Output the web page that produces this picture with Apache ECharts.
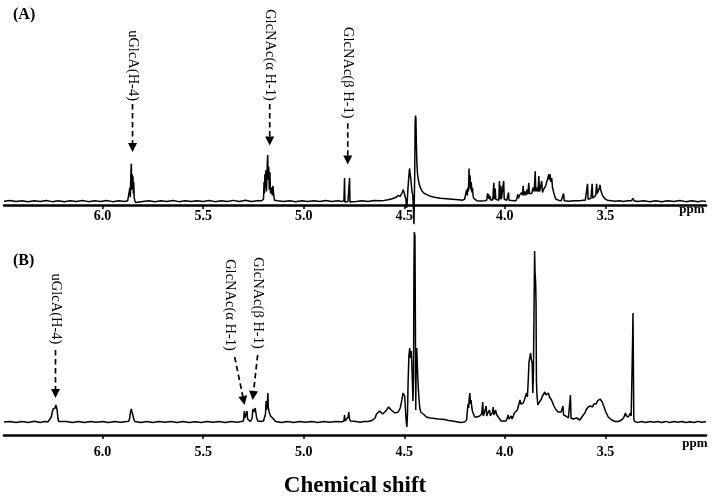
<!DOCTYPE html>
<html>
<head>
<meta charset="utf-8">
<script src="https://cdn.jsdelivr.net/npm/echarts@6/dist/echarts.min.js"></script>
<style>html,body{margin:0;padding:0;background:#fff;}#c{width:713px;height:497px;}</style>
</head>
<body>
<div id="c"></div>
<script>
// ---- tick labels (ppm) ----
const ppmTicks = [6.0, 5.5, 5.0, 4.5, 4.0, 3.5];
const ppmRange = [3.0, 6.49];

// ---- spectrum (A): [ppm, intensity] ----
const spectrumA = [
[6.49,0],[6.46,0.6],[6.43,-0.4],[6.40,0.5],[6.37,-0.6],[6.34,0.4],[6.31,-0.3],[6.28,0.7],[6.25,-0.5],[6.22,0.3],[6.19,-0.6],[6.16,0.5],[6.13,-0.3],[6.10,0.6],[6.07,-0.5],[6.04,0.4],[6.01,-0.4],[5.98,0.6],[5.95,-0.5],[5.92,0.4],[5.89,-0.3],[5.875,0.5],[5.868,2],
[5.864,14],[5.862,4],[5.859,30],[5.857,39],[5.855,12],[5.853,28],[5.851,18],[5.849,26],[5.847,8],[5.845,20],[5.843,4],[5.840,1],[5.836,-1.5],[5.830,0.5],
[5.80,-0.4],[5.77,0.5],[5.74,-0.5],[5.71,0.4],[5.68,-0.3],[5.65,0.6],[5.62,-0.5],[5.59,0.4],[5.56,-0.4],[5.53,0.5],[5.50,-0.3],[5.47,0.6],[5.44,-0.5],[5.41,0.3],[5.38,-0.4],[5.35,0.8],[5.32,-0.3],[5.29,0.9],[5.26,-0.4],[5.23,0.5],[5.21,0.3],[5.200,2],
[5.197,20],[5.195,8],[5.193,28],[5.191,14],[5.188,32],[5.185,10],[5.181,40],[5.179,48],[5.177,22],[5.174,36],[5.171,12],[5.168,30],[5.165,8],[5.161,14],[5.158,16],[5.156,6],[5.153,16],[5.150,14],[5.148,4],[5.145,1],[5.14,-1],[5.13,0.5],
[5.10,-0.4],[5.07,0.5],[5.04,-0.5],[5.01,0.4],[4.98,-0.3],[4.95,0.5],[4.92,-0.4],[4.89,0.6],[4.86,-0.3],[4.83,0.4],[4.81,-0.3],[4.800,0.5],
[4.797,24],[4.795,-1],[4.790,0.3],[4.780,-0.3],[4.774,0.5],[4.772,24],[4.770,-1],[4.765,0.4],
[4.74,-0.3],[4.71,0.5],[4.68,-0.4],[4.65,0.6],[4.62,0.3],[4.60,0.8],[4.58,1.5],[4.56,2.5],[4.54,4],[4.53,6],[4.52,5],[4.51,9],[4.505,12],[4.500,13],[4.496,10],[4.492,2],[4.489,-7],[4.486,-3],[4.482,12],[4.478,24],[4.474,34],[4.470,32],[4.466,20],[4.462,10],[4.458,7],[4.455,-6],[4.452,-24],[4.450,-25],[4.448,30],[4.446,82],[4.444,89],[4.442,85],[4.440,60],[4.437,38],[4.434,28],[4.430,22],[4.425,17],[4.418,13],[4.41,10],[4.40,8],[4.39,7],[4.37,5],[4.35,4],[4.32,3],[4.29,2.5],[4.26,2],[4.23,1.5],[4.21,1],[4.20,2],
[4.195,1.5],[4.190,12],[4.187,6],[4.184,14],[4.181,10],[4.178,34],[4.176,14],[4.173,27],[4.170,12],[4.167,20],[4.164,9],[4.161,14],[4.158,6],[4.155,3],[4.150,1],[4.14,0.5],[4.12,0.2],[4.10,0.5],
[4.090,1],[4.086,8],[4.083,3],[4.080,7],[4.077,2],[4.073,5],[4.070,1],[4.060,1.5],[4.055,19],[4.052,2],[4.048,13],[4.045,2],[4.030,1],[4.027,21],[4.024,2],[4.020,16],[4.017,2],[4.010,1],[4.006,21],[4.003,2],[3.998,1],[3.990,1],[3.982,9],[3.979,1],[3.970,0.5],[3.955,0.5],
[3.945,0.5],[3.940,3],[3.936,7],[3.932,3],[3.928,6],[3.922,5],[3.916,9],[3.912,6],[3.909,16],[3.906,6],[3.900,10],[3.896,6],[3.890,12],[3.886,7],[3.881,19],[3.878,8],[3.872,10],[3.866,8],[3.860,14],[3.854,10],[3.849,31],[3.846,10],[3.840,14],[3.835,10],[3.831,26],[3.828,10],[3.823,14],[3.817,21],[3.813,9],[3.808,12],[3.802,10],[3.797,16],[3.793,14],[3.789,22],[3.785,20],[3.781,28],[3.778,22],[3.775,28],[3.771,20],[3.767,24],[3.763,14],[3.759,16],[3.756,12],[3.752,5],[3.746,2],[3.740,1],[3.730,0.8],[3.720,0.5],[3.713,1],[3.708,8],[3.705,0.5],[3.70,0.3],[3.68,0],[3.66,0.5],[3.64,0.3],[3.62,0.6],[3.61,1],
[3.600,1],[3.594,1.5],[3.589,18],[3.586,2],[3.578,2],[3.572,3],[3.566,18],[3.563,3],[3.556,4],[3.548,6],[3.544,18],[3.541,8],[3.536,10],[3.531,13],[3.527,17],[3.524,12],[3.519,10],[3.515,6],[3.511,8],[3.507,4],[3.500,2],[3.49,1],[3.47,0.5],[3.45,0],[3.43,0.5],[3.41,-0.3],[3.39,0.4],[3.37,0.5],[3.363,3],[3.358,0.5],[3.34,-0.4],[3.31,0.5],[3.28,-0.5],[3.25,0.4],[3.22,-0.6],[3.19,0.5],[3.16,-0.4],[3.13,0.6],[3.10,-0.5],[3.07,0.4],[3.04,-0.6],[3.02,0.3],[3.00,-0.4]
];

// ---- spectrum (B): [ppm, intensity] ----
const spectrumB = [
[6.49,0],[6.46,0.6],[6.43,-0.5],[6.40,0.5],[6.37,-0.4],[6.34,0.7],[6.31,-0.5],[6.29,0.4],[6.27,0.3],[6.262,1.5],[6.255,5],
[6.250,10],[6.246,13],[6.242,15],[6.239,13],[6.236,14],[6.232,17],[6.229,16],[6.226,12],[6.222,4],[6.218,0.5],[6.21,-0.5],
[6.18,0.5],[6.15,-0.4],[6.12,0.6],[6.09,-0.5],[6.06,0.4],[6.03,-0.3],[6.00,0.5],[5.97,-0.5],[5.94,0.4],[5.91,-0.3],[5.88,0.5],[5.87,0.8],
[5.866,3],[5.862,9],[5.859,7],[5.857,13],[5.854,10],[5.851,11],[5.848,6],[5.845,3],[5.840,0.5],
[5.81,-0.4],[5.78,0.5],[5.75,-0.5],[5.72,0.4],[5.69,-0.3],[5.66,0.6],[5.63,-0.4],[5.60,0.5],[5.57,-0.5],[5.54,0.3],[5.51,-0.4],[5.48,0.5],[5.45,-0.3],[5.42,0.4],[5.39,-0.5],[5.36,0.5],[5.33,-0.3],[5.31,0.4],[5.30,1],
[5.298,3],[5.295,11],[5.292,4],[5.289,5],[5.285,6],[5.282,11],[5.279,3],[5.272,1],[5.265,0.5],[5.260,1],
[5.256,4],[5.253,13],[5.250,14],[5.247,10],[5.244,11],[5.241,14],[5.238,12],[5.234,4],[5.228,1],[5.215,0.5],[5.20,1],
[5.195,2],[5.190,8],[5.187,21],[5.184,12],[5.181,18],[5.178,29],[5.176,15],[5.172,10],[5.168,9],[5.165,6],[5.160,5],[5.155,4],[5.152,5],[5.148,2],[5.14,0.5],
[5.11,-0.4],[5.08,0.5],[5.05,-0.5],[5.02,0.4],[4.99,-0.3],[4.96,0.5],[4.93,-0.4],[4.90,0.5],[4.87,-0.3],[4.84,0.4],[4.81,0.3],[4.800,1],
[4.797,7],[4.794,1],[4.785,1],[4.779,5],[4.776,10],[4.773,4],[4.768,1],[4.76,0.3],
[4.74,0.5],[4.72,-0.3],[4.70,0.4],[4.68,0.5],[4.66,1.5],[4.645,4],[4.638,8],[4.630,6],[4.622,11],[4.615,12],[4.608,8],[4.600,9],[4.592,11],[4.585,13],[4.578,15],[4.572,14],[4.565,12],[4.556,10],[4.547,9],[4.538,8],[4.530,10],[4.520,14],[4.512,22],[4.506,29],[4.502,31],[4.498,26],[4.494,12],[4.490,0],[4.487,-5],[4.484,8],[4.481,40],[4.477,66],[4.473,74],[4.469,64],[4.465,71],[4.461,50],[4.457,21],[4.454,45],[4.452,150],[4.450,190],[4.447,186],[4.445,110],[4.443,12],[4.441,55],[4.438,74],[4.435,56],[4.432,41],[4.428,26],[4.423,14],[4.418,10],[4.41,8],[4.40,7],[4.39,5],[4.37,4],[4.35,3.5],[4.33,3],[4.30,2.5],[4.28,1.5],[4.26,1],[4.24,0.3],[4.22,-0.5],[4.20,0],
[4.195,0],[4.190,2],[4.186,12],[4.183,18],[4.180,14],[4.177,24],[4.174,29],[4.171,18],[4.168,22],[4.164,14],[4.160,10],[4.156,8],[4.150,5],[4.145,4],[4.140,5],[4.135,4],
[4.125,6],[4.115,8],[4.110,20],[4.107,6],[4.102,9],[4.097,7],[4.093,16],[4.090,6],[4.085,9],[4.080,8],[4.076,12],[4.072,6],[4.066,8],[4.061,10],[4.058,15],[4.055,7],[4.050,9],[4.046,12],[4.042,8],[4.038,6],[4.033,5],[4.026,3],[4.018,1],[4.010,0],[4.004,1],[4.000,2],[3.994,1],[3.988,4],[3.984,7],[3.980,3],[3.974,4],[3.968,6],[3.964,3],[3.958,6],
[3.953,9],[3.945,7],[3.938,12],[3.930,18],[3.925,22],[3.920,18],[3.914,16],[3.909,19],[3.903,22],[3.897,26],[3.892,29],[3.888,25],[3.884,40],[3.880,60],[3.876,58],[3.872,69],[3.868,62],[3.864,59],[3.861,29],[3.858,50],[3.855,110],[3.852,171],[3.850,150],[3.847,140],[3.845,120],[3.843,40],[3.840,26],[3.836,17],[3.832,19],[3.828,20],[3.823,22],[3.818,23],[3.813,26],[3.807,28],[3.801,30],[3.796,27],[3.790,28],[3.784,29],[3.778,25],[3.773,24],[3.768,22],[3.762,19],[3.756,16],[3.751,15],[3.745,12],[3.740,11],[3.735,10],[3.728,9],[3.720,10],[3.715,8],[3.711,16],[3.708,7],[3.703,7],[3.697,6],[3.690,5],[3.684,4],[3.678,5],[3.674,27],[3.671,4],[3.665,3],[3.660,3],[3.652,4],[3.643,4],[3.636,3],[3.627,2],[3.620,4],[3.614,6],[3.608,8],[3.602,9],[3.596,12],[3.590,14],[3.586,15],[3.580,13],[3.575,16],[3.569,17],[3.564,15],[3.558,18],[3.552,19],[3.546,18],[3.540,21],[3.533,22],[3.527,23],[3.521,21],[3.516,20],[3.511,19],[3.505,14],[3.500,11],[3.494,9],[3.486,5],[3.478,3],[3.469,2],[3.460,1],[3.452,0.5],[3.444,0],[3.436,0.5],[3.428,1],[3.420,2],[3.414,3],[3.410,4],[3.404,6],[3.400,9],[3.396,6],[3.392,5],[3.386,5],[3.381,7],[3.376,9],[3.372,6],[3.367,7],[3.365,80],[3.363,109],[3.361,60],[3.359,3],[3.355,0.5],[3.350,0],[3.340,-0.4],[3.32,0.5],[3.30,-0.5],[3.28,0.4],[3.26,-0.3],[3.24,0.5],[3.22,-0.4],[3.20,0.6],[3.18,-0.5],[3.16,0.4],[3.14,-0.3],[3.12,0.5],[3.10,-0.4],[3.08,0.3],[3.06,-0.5],[3.04,0.6],[3.02,-0.3],[3.00,0.3]
];

// ---- peak annotations: text centre, arrow start, arrow tip  [ppm, intensity] ----
const annotationsA = [
  {text:'uGlcA(H-4)',     at:[5.851,141],   from:[5.851,101], to:[5.851,51]},
  {text:'GlcNAc(α H-1)', at:[5.169,152],   from:[5.169,101], to:[5.169,58]},
  {text:'GlcNAc(β H-1)', at:[4.781,133.5], from:[4.781,81],  to:[4.781,38]}
];
const annotationsB = [
  {text:'uGlcA(H-4)',     at:[6.234,113], from:[6.234,72], to:[6.234,24]},
  {text:'GlcNAc(α H-1)', at:[5.368,117], from:[5.343,65], to:[5.294,17]},
  {text:'GlcNAc(β H-1)', at:[5.229,119], from:[5.229,67], to:[5.254,22]}
];
const panelLabels = ['(A)', '(B)'];
const axisTitle = 'Chemical shift';
const unitLabel = 'ppm';

const SERIF = '"Liberation Serif","Times New Roman",serif';

function makeX(gridIndex, margin){
  return {
    type:'value', gridIndex, min:ppmRange[0], max:ppmRange[1], inverse:true, interval:0.5,
    axisLine:{show:true, onZero:false, lineStyle:{color:'#000', width:2.6}},
    axisTick:{show:true, length:4, lineStyle:{color:'#000', width:1.5}, customValues:ppmTicks},
    axisLabel:{show:true, margin, customValues:ppmTicks, formatter:v=>v.toFixed(1),
      color:'#000', fontFamily:SERIF, fontWeight:'bold', fontSize:14},
    splitLine:{show:false}
  };
}
function makeY(gridIndex, min, max){
  return {type:'value', gridIndex, min, max, show:false, splitLine:{show:false}};
}

const chart = echarts.init(document.getElementById('c'), null, {renderer:'canvas'});
chart.setOption({
  backgroundColor:'#fff',
  animation:false,
  grid:[
    {left:4, right:7, top:105, bottom:292},
    {left:4, right:7, top:230, bottom:62}
  ],
  xAxis:[makeX(0,4), makeX(1,10)],
  yAxis:[makeY(0,-4,100), makeY(1,-13,192)],
  series:[
    {type:'line', xAxisIndex:0, yAxisIndex:0, data:spectrumA, showSymbol:false, clip:false,
     lineStyle:{color:'#000', width:1.5}, silent:true},
    {type:'line', xAxisIndex:1, yAxisIndex:1, data:spectrumB, showSymbol:false, clip:false,
     lineStyle:{color:'#000', width:1.5}, silent:true}
  ]
});

function px(g, p){ return chart.convertToPixel({gridIndex:g}, p); }
const graphics = [];
function addAnn(g, list){
  list.forEach(a=>{
    const c = px(g, a.at);
    graphics.push({type:'text', x:c[0], y:c[1], rotation:-Math.PI/2,
      style:{text:a.text, font:'14.5px '+SERIF, fill:'#000', align:'center', verticalAlign:'middle'}});
    const s = px(g, a.from), t = px(g, a.to);
    const dx=t[0]-s[0], dy=t[1]-s[1], L=Math.hypot(dx,dy), ux=dx/L, uy=dy/L;
    const hl=9, hw=4.5;
    const b=[t[0]-ux*hl, t[1]-uy*hl];
    graphics.push({type:'line', shape:{x1:s[0], y1:s[1], x2:b[0], y2:b[1]},
      style:{stroke:'#000', lineWidth:1.7, lineDash:[5.5,3.5]}});
    graphics.push({type:'polygon', shape:{points:[[t[0],t[1]],[b[0]-uy*hw,b[1]+ux*hw],[b[0]+uy*hw,b[1]-ux*hw]]},
      style:{fill:'#000'}});
  });
}
addAnn(0, annotationsA);
addAnn(1, annotationsB);
graphics.push({type:'text', x:13, y:15, style:{text:panelLabels[0], font:'bold 16px '+SERIF, fill:'#000', align:'left', verticalAlign:'middle'}});
graphics.push({type:'text', x:13, y:261, style:{text:panelLabels[1], font:'bold 16px '+SERIF, fill:'#000', align:'left', verticalAlign:'middle'}});
graphics.push({type:'text', x:692, y:210, style:{text:unitLabel, font:'bold 13px '+SERIF, fill:'#000', align:'center', verticalAlign:'middle'}});
graphics.push({type:'text', x:695, y:444, style:{text:unitLabel, font:'bold 13px '+SERIF, fill:'#000', align:'center', verticalAlign:'middle'}});
graphics.push({type:'text', x:355, y:486, style:{text:axisTitle, font:'bold 23px '+SERIF, fill:'#000', align:'center', verticalAlign:'middle'}});
chart.setOption({graphic:graphics});
</script>
</body>
</html>
